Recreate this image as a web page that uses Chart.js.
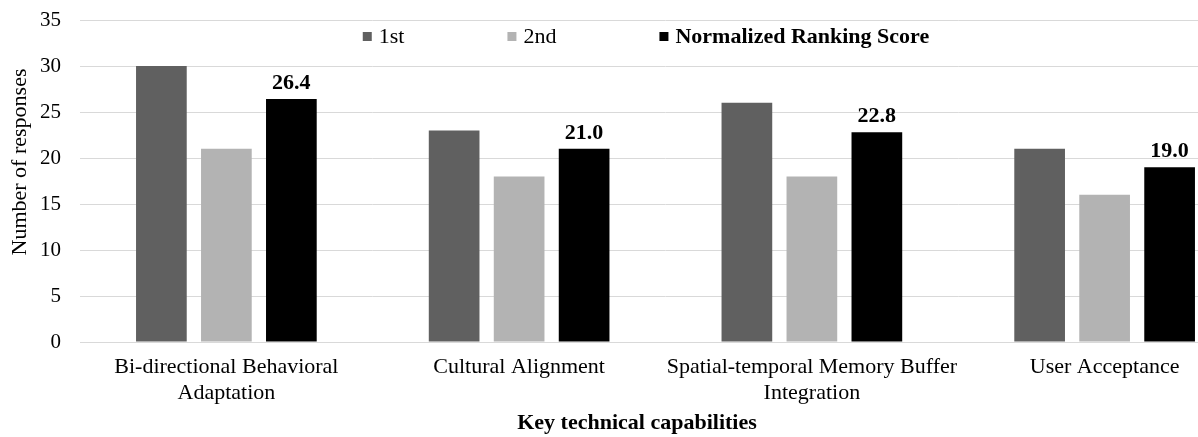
<!DOCTYPE html>
<html>
<head>
<meta charset="utf-8">
<script src="https://cdn.jsdelivr.net/npm/chart.js@4/dist/chart.umd.min.js"></script>
<style>
  html, body { margin: 0; padding: 0; background: #fff; overflow: hidden; }
  #wrap { width: 1251px; height: 437px; }
</style>
</head>
<body>
<div id="wrap"><canvas id="chart" width="1251" height="437"></canvas></div>
<script>
// Data
const categories = [
  ["Bi-directional Behavioral", "Adaptation"],
  "Cultural Alignment",
  ["Spatial-temporal Memory Buffer", "Integration"],
  "User Acceptance",
];
const seriesLabels = ["1st", "2nd", "Normalized Ranking Score"];
const firstValues = [30, 23, 26, 21];
const secondValues = [21, 18, 18, 16];
const scoreValues = [26.4, 21.0, 22.8, 19.0];
const yMin = 0;
const yMax = 35;
const yStep = 5;
const xTitle = "Key technical capabilities";
const yTitle = "Number of responses";

const FONT = "'Liberation Serif', 'Times New Roman', serif";
const colors = ["#606060", "#b3b3b3", "#000000"];

// Legend, value labels and axis titles drawn over the plot
const overlay = {
  id: "overlay",
  afterDatasetsDraw(chart) {
    const ctx = chart.ctx;
    ctx.save();

    // values above the score bars
    ctx.font = "bold 22px " + FONT;
    ctx.fillStyle = "#000";
    ctx.textAlign = "center";
    ctx.textBaseline = "alphabetic";
    chart.getDatasetMeta(2).data.forEach((bar, i) => {
      ctx.fillText(scoreValues[i].toFixed(1), bar.x, bar.y - 10);
    });

    // legend (last entry in bold)
    const box = 9, boxGap = 7, itemGap = 103;
    const items = chart.data.datasets.map((ds, i) => {
      const font = (i === 2 ? "bold " : "") + "22px " + FONT;
      ctx.font = font;
      return { label: ds.label, color: ds.backgroundColor, font, w: ctx.measureText(ds.label).width };
    });
    const total = items.reduce((s, it) => s + box + boxGap + it.w, 0) + itemGap * (items.length - 1);
    let x = 646 - total / 2;
    ctx.textAlign = "left";
    items.forEach((it) => {
      ctx.fillStyle = it.color;
      ctx.fillRect(x, 32, box, box);
      x += box + boxGap;
      ctx.font = it.font;
      ctx.fillStyle = "#000";
      ctx.fillText(it.label, x, 43);
      x += it.w + itemGap;
    });

    // axis titles
    ctx.font = "bold 22px " + FONT;
    ctx.textAlign = "center";
    ctx.textBaseline = "middle";
    ctx.fillText(xTitle, 637, 423);

    ctx.font = "22px " + FONT;
    ctx.translate(20, 162);
    ctx.rotate(-Math.PI / 2);
    ctx.fillText(yTitle, 0, 0);
    ctx.restore();
  },
};

new Chart(document.getElementById("chart"), {
  type: "bar",
  data: {
    labels: categories,
    datasets: [
      { label: seriesLabels[0], data: firstValues, backgroundColor: colors[0] },
      { label: seriesLabels[1], data: secondValues, backgroundColor: colors[1] },
      { label: seriesLabels[2], data: scoreValues, backgroundColor: colors[2] },
    ],
  },
  options: {
    responsive: false,
    animation: false,
    categoryPercentage: 0.666,
    barPercentage: 0.78,
    layout: { padding: { top: 20, left: 0, right: 0, bottom: 0 } },
    plugins: { legend: { display: false }, tooltip: { enabled: false } },
    scales: {
      x: {
        grid: { display: false, drawTicks: false },
        border: { display: true, color: "#d9d9d9", width: 1 },
        ticks: {
          color: "#000",
          font: { family: FONT, size: 22, lineHeight: 1.2 },
          padding: 12,
          maxRotation: 0,
          autoSkip: false,
        },
        afterFit(scale) { scale.height = 95; },
      },
      y: {
        min: yMin,
        max: yMax,
        grid: { color: "#d9d9d9", drawTicks: false },
        border: { display: false },
        ticks: {
          stepSize: yStep,
          color: "#000",
          font: { family: FONT, size: 21 },
          padding: 19,
        },
        afterFit(scale) {
          scale.width = 80;
          // tick padding would otherwise push the plot top down
          scale.paddingTop = 0;
          scale.paddingBottom = 0;
        },
      },
    },
  },
  plugins: [overlay],
});
</script>
</body>
</html>
